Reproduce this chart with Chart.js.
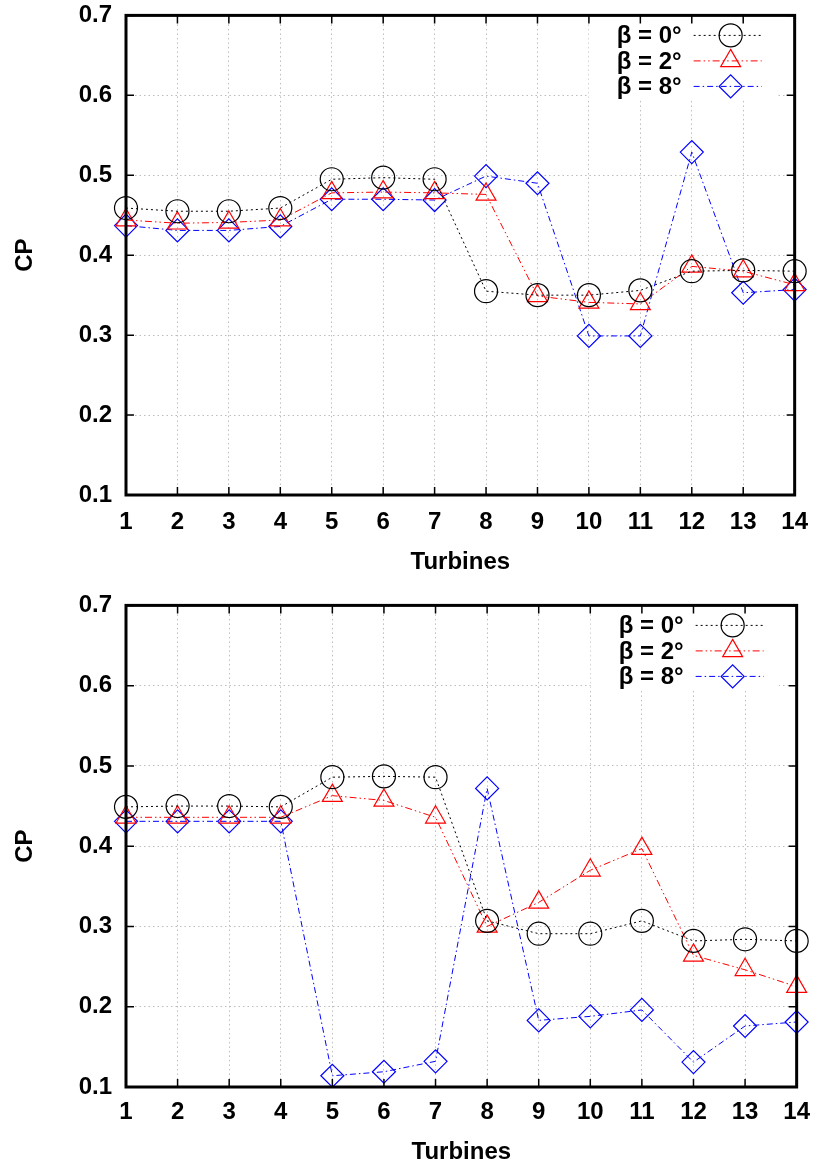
<!DOCTYPE html>
<html lang="en">
<head>
<meta charset="UTF-8">
<title>CP per turbine</title>
<script src="https://cdn.jsdelivr.net/npm/chart.js"></script>
<style>
  body { margin: 0; background: #fff; }
  .card { position: relative; width: 814px; height: 584px; overflow: hidden; }
  .card canvas { position: absolute; left: 0; }
  #topChart { top: -13px; }
  #bottomChart { top: -7px; }
</style>
</head>
<body>
<div class="card"><canvas id="topChart" width="821" height="597"></canvas></div>
<div class="card"><canvas id="bottomChart" width="821" height="591"></canvas></div>

<script>
const turbines = ['1', '2', '3', '4', '5', '6', '7', '8', '9', '10', '11', '12', '13', '14'];
const cpTicks = [0.1, 0.2, 0.3, 0.4, 0.5, 0.6, 0.7];
const seriesLabels = ['β = 0°', 'β = 2°', 'β = 8°'];

// upper plot
const topBeta0 = [0.459, 0.455, 0.455, 0.459, 0.495, 0.497, 0.495, 0.355, 0.350, 0.350, 0.356, 0.380, 0.381, 0.380];
const topBeta2 = [0.444, 0.440, 0.441, 0.444, 0.478, 0.479, 0.478, 0.476, 0.349, 0.341, 0.339, 0.386, 0.380, 0.363];
const topBeta8 = [0.437, 0.431, 0.431, 0.436, 0.470, 0.470, 0.469, 0.499, 0.490, 0.299, 0.299, 0.529, 0.353, 0.357];

// lower plot
const botBeta0 = [0.449, 0.450, 0.450, 0.449, 0.486, 0.487, 0.486, 0.307, 0.291, 0.291, 0.307, 0.282, 0.284, 0.282];
const botBeta2 = [0.436, 0.436, 0.436, 0.436, 0.463, 0.457, 0.436, 0.300, 0.330, 0.370, 0.397, 0.264, 0.246, 0.225];
const botBeta8 = [0.431, 0.431, 0.431, 0.431, 0.114, 0.119, 0.132, 0.472, 0.183, 0.188, 0.196, 0.131, 0.176, 0.181];

Chart.defaults.font.family = "'Liberation Sans', Arial, Helvetica, sans-serif";
Chart.defaults.color = '#000';

const styles = [
    { color: '#000000', dash: [2, 3], point: 'circle' },
    { color: '#ff0000', dash: [7, 3, 1.5, 3, 1.5, 3], point: 'triangle' },
    { color: '#0000ff', dash: [6, 3, 1.5, 3], point: 'rectRot' }
];

function makeDatasets(values) {
    return values.map((v, i) => ({
        label: seriesLabels[i],
        data: v,
        borderColor: styles[i].color,
        backgroundColor: 'rgba(0,0,0,0)',
        borderWidth: 1,
        borderDash: styles[i].dash,
        pointStyle: styles[i].point,
        pointRadius: 11.5,
        pointHoverRadius: 11.5,
        pointBorderWidth: 1.2,
        pointBorderColor: styles[i].color,
        pointBackgroundColor: 'rgba(0,0,0,0)',
        tension: 0,
        clip: false
    }));
}

// gnuplot style frame, mirrored inward ticks and boxed key
const framePlugin = {
    id: 'frame',
    afterDatasetsDraw(chart) {
        const { ctx, chartArea: a } = chart;
        ctx.save();
        ctx.fillStyle = '#fff';
        ctx.fillRect(a.right - 206, a.top, 188, 83);
        chart.data.datasets.forEach((ds, i) => {
            const y = a.top + 20 + i * 25.5;
            ctx.font = "bold 24px 'Liberation Sans', Arial, sans-serif";
            ctx.textAlign = 'right';
            ctx.textBaseline = 'middle';
            ctx.fillStyle = '#000';
            ctx.fillText(ds.label, a.right - 113, y + 1);
            ctx.strokeStyle = ds.borderColor;
            ctx.lineWidth = 1;
            ctx.setLineDash(ds.borderDash);
            ctx.beginPath();
            ctx.moveTo(a.right - 101, y);
            ctx.lineTo(a.right - 33, y);
            ctx.stroke();
            ctx.setLineDash([]);
            ctx.lineWidth = ds.pointBorderWidth;
            ctx.fillStyle = 'rgba(0,0,0,0)';
            Chart.helpers.drawPoint(ctx, {
                pointStyle: ds.pointStyle,
                radius: ds.pointRadius,
                borderWidth: ds.pointBorderWidth,
                rotation: 0
            }, a.right - 64, y);
        });
        ctx.restore();
    },
    afterDraw(chart) {
        const { ctx, chartArea: a, scales: { x, y } } = chart;
        ctx.save();
        ctx.strokeStyle = '#000';
        ctx.lineWidth = 1.5;
        ctx.beginPath();
        x.ticks.forEach((t, i) => {
            const px = x.getPixelForTick(i);
            ctx.moveTo(px, a.bottom); ctx.lineTo(px, a.bottom - 8);
            ctx.moveTo(px, a.top); ctx.lineTo(px, a.top + 8);
        });
        y.ticks.forEach((t, i) => {
            const py = y.getPixelForTick(i);
            ctx.moveTo(a.left, py); ctx.lineTo(a.left + 8, py);
            ctx.moveTo(a.right, py); ctx.lineTo(a.right - 8, py);
        });
        ctx.stroke();
        ctx.lineWidth = 3;
        ctx.strokeRect(a.left, a.top, a.right - a.left, a.bottom - a.top);
        ctx.restore();
    }
};

function makeConfig(values, xHeight, titlePad, tickPad) {
    const tickFont = { size: 24, weight: 'bold' };
    return {
        type: 'line',
        data: { labels: turbines, datasets: makeDatasets(values) },
        options: {
            responsive: false,
            animation: false,
            devicePixelRatio: 1,
            layout: { padding: { top: 0, right: 18, left: 0, bottom: 0 } },
            plugins: { legend: { display: false }, tooltip: { enabled: false } },
            scales: {
                x: {
                    type: 'category',
                    offset: false,
                    grid: { color: '#bdbdbd', lineWidth: 1, drawTicks: false, offset: false, borderDash: [1.5, 3] },
                    border: { display: false, dash: [1.5, 3] },
                    ticks: { font: tickFont, padding: tickPad, maxRotation: 0, autoSkip: false },
                    title: { display: true, text: 'Turbines', font: tickFont, padding: { top: 0, bottom: titlePad } },
                    afterFit(scale) { scale.height = xHeight; }
                },
                y: {
                    min: 0.1,
                    max: 0.7,
                    grid: { color: '#bdbdbd', lineWidth: 1, drawTicks: false, borderDash: [1.5, 3] },
                    border: { display: false, dash: [1.5, 3] },
                    afterBuildTicks(scale) { scale.ticks = cpTicks.map(v => ({ value: v })); },
                    ticks: { font: tickFont, padding: 14, callback: v => Number(v).toFixed(1) },
                    title: { display: true, text: 'CP', font: tickFont, padding: { top: 11, bottom: 0 } },
                    afterFit(scale) { scale.width = 126; }
                }
            }
        },
        plugins: [framePlugin]
    };
}

new Chart(document.getElementById('topChart'), makeConfig([topBeta0, topBeta2, topBeta8], 89, 7, 13));
new Chart(document.getElementById('bottomChart'), makeConfig([botBeta0, botBeta2, botBeta8], 81, 1, 11));
</script>
</body>
</html>
